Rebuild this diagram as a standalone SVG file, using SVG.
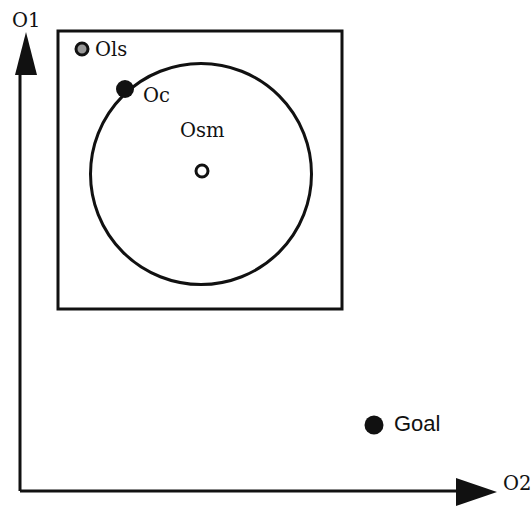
<svg xmlns="http://www.w3.org/2000/svg" width="532" height="508" viewBox="0 0 532 508">
<style>
.serif{font-family:"DejaVu Serif","Liberation Serif",serif;font-size:19.5px;fill:#111}
.sans{font-family:"Liberation Sans","DejaVu Sans",sans-serif;font-size:22px;fill:#111}
.ln{stroke:#111;stroke-width:3;fill:none}
</style>
<rect width="532" height="508" fill="#fff"/>
<g id="connectors">
<line class="ln" x1="20" y1="491" x2="20" y2="70"/>
<polygon points="26,32 15,75 37,75" fill="#111"/>
<line class="ln" x1="20" y1="491" x2="460" y2="491"/>
<polygon points="497,492 456,478 456,506" fill="#111"/>
</g>
<g id="axis-o1"><text class="serif" x="12" y="27">O1</text></g>
<g id="axis-o2"><text class="serif" x="503" y="490">O2</text></g>
<g id="box"><rect x="58" y="31" width="284" height="278" class="ln" stroke-width="2.5"/></g>
<g id="circle"><circle cx="201" cy="174" r="110.5" class="ln" stroke-width="2.5"/></g>
<g id="ols">
<circle cx="82" cy="49" r="6" fill="#999" stroke="#111" stroke-width="3"/>
<text class="serif" x="95" y="56">Ols</text>
</g>
<g id="oc">
<circle cx="125" cy="89" r="9" fill="#111"/>
<text class="serif" x="143" y="102">Oc</text>
</g>
<g id="osm">
<text class="serif" x="180" y="137">Osm</text>
<circle cx="202" cy="171" r="6" fill="#fff" stroke="#111" stroke-width="3"/>
</g>
<g id="goal">
<circle cx="374" cy="425" r="9.5" fill="#111"/>
<text class="sans" x="394" y="431">Goal</text>
</g>
</svg>
